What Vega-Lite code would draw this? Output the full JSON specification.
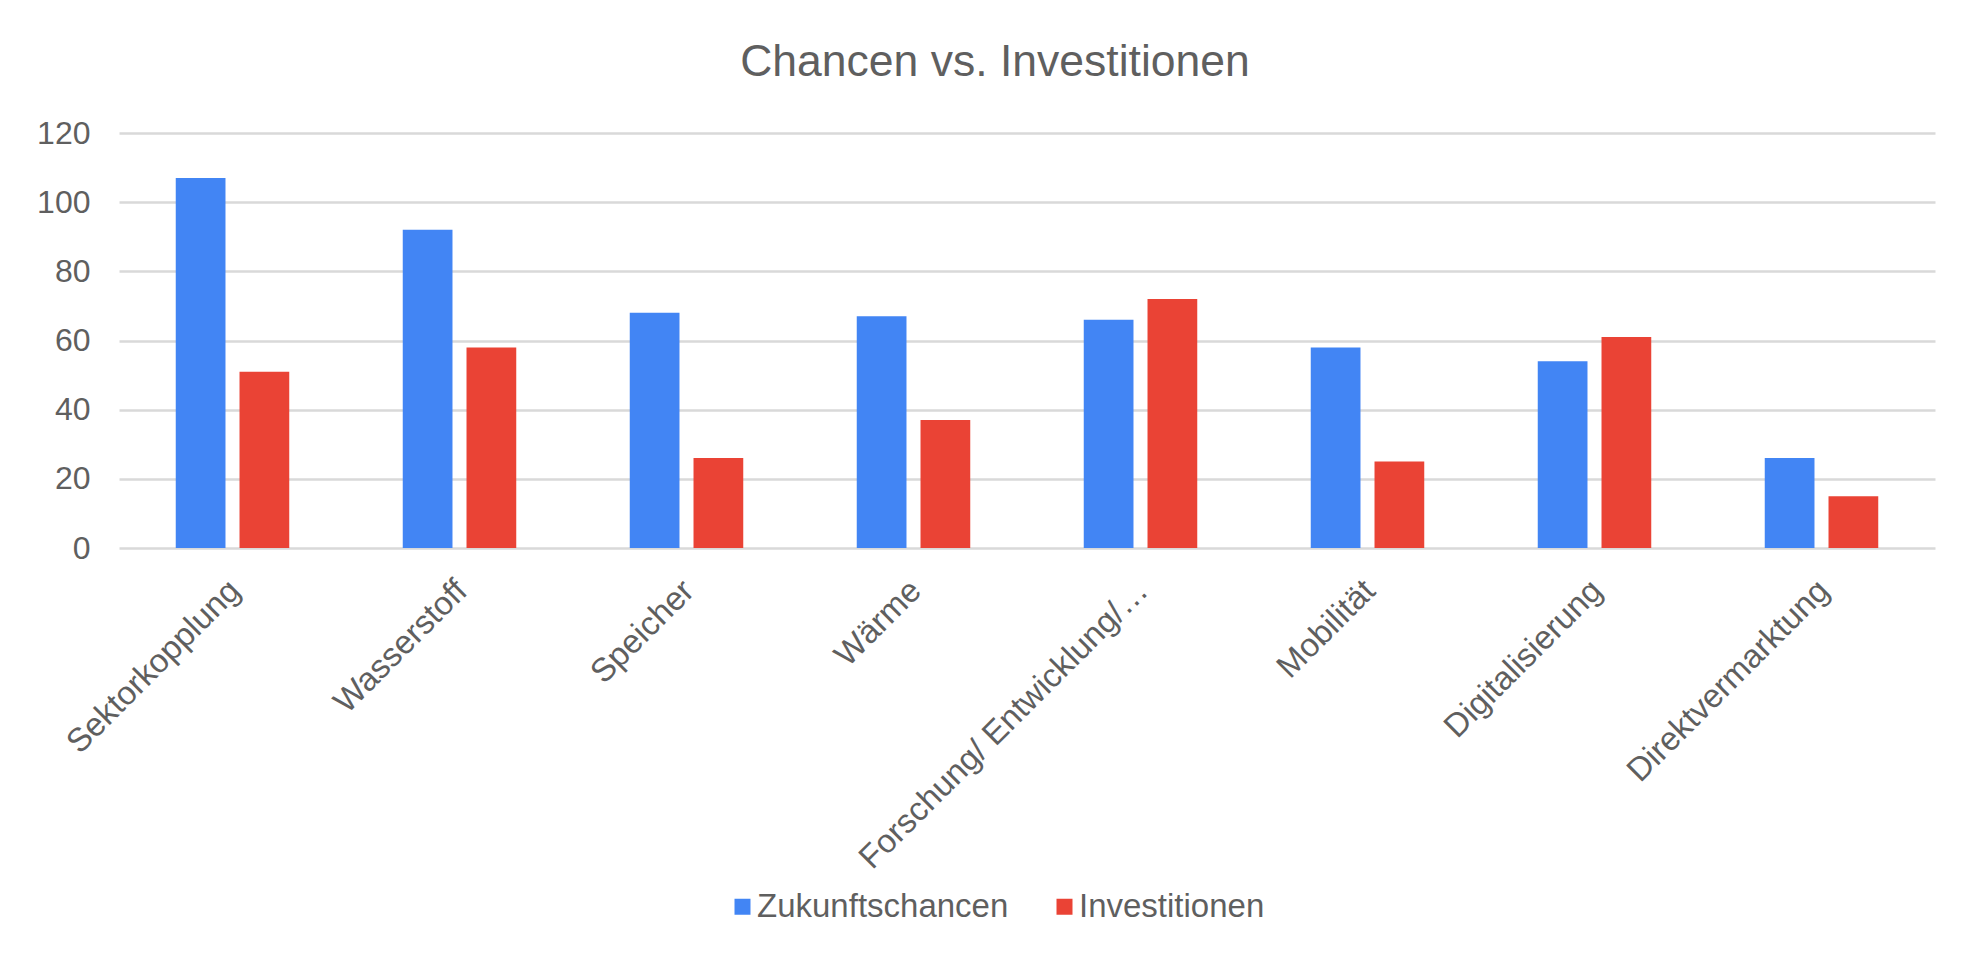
{
  "$schema": "https://vega.github.io/schema/vega-lite/v6.json",
  "width": 1816,
  "height": 415,
  "autosize": {"type": "none"},
  "padding": {"left": 119, "top": 133, "right": 29, "bottom": 405},
  "background": "white",
  "config": {
    "font": "Liberation Sans",
    "view": {"stroke": null}
  },
  "title": {
    "text": "Chancen vs. Investitionen",
    "fontSize": 44.5,
    "fontWeight": "normal",
    "color": "#5f5f5f",
    "anchor": "middle",
    "dx": -32,
    "offset": 32
  },
  "data": {
    "values": [
      {"Kategorie": "Sektorkopplung", "Reihe": "Zukunftschancen", "Wert": 107},
      {"Kategorie": "Sektorkopplung", "Reihe": "Investitionen", "Wert": 51},
      {"Kategorie": "Wasserstoff", "Reihe": "Zukunftschancen", "Wert": 92},
      {"Kategorie": "Wasserstoff", "Reihe": "Investitionen", "Wert": 58},
      {"Kategorie": "Speicher", "Reihe": "Zukunftschancen", "Wert": 68},
      {"Kategorie": "Speicher", "Reihe": "Investitionen", "Wert": 26},
      {"Kategorie": "Wärme", "Reihe": "Zukunftschancen", "Wert": 67},
      {"Kategorie": "Wärme", "Reihe": "Investitionen", "Wert": 37},
      {"Kategorie": "Forschung/ Entwicklung/…", "Reihe": "Zukunftschancen", "Wert": 66},
      {"Kategorie": "Forschung/ Entwicklung/…", "Reihe": "Investitionen", "Wert": 72},
      {"Kategorie": "Mobilität", "Reihe": "Zukunftschancen", "Wert": 58},
      {"Kategorie": "Mobilität", "Reihe": "Investitionen", "Wert": 25},
      {"Kategorie": "Digitalisierung", "Reihe": "Zukunftschancen", "Wert": 54},
      {"Kategorie": "Digitalisierung", "Reihe": "Investitionen", "Wert": 61},
      {"Kategorie": "Direktvermarktung", "Reihe": "Zukunftschancen", "Wert": 26},
      {"Kategorie": "Direktvermarktung", "Reihe": "Investitionen", "Wert": 15}
    ]
  },
  "mark": {"type": "bar"},
  "encoding": {
    "x": {
      "field": "Kategorie",
      "type": "nominal",
      "sort": null,
      "scale": {"paddingInner": 0.5, "paddingOuter": 0.25},
      "axis": {
        "title": null,
        "labelAngle": -45,
        "labelFontSize": 33,
        "labelColor": "#5f5f5f",
        "labelPadding": 26,
        "labelOffset": -9,
        "labelLimit": 1000,
        "domain": false,
        "ticks": false,
        "grid": false
      }
    },
    "xOffset": {
      "field": "Reihe",
      "type": "nominal",
      "sort": ["Zukunftschancen", "Investitionen"],
      "scale": {"paddingInner": 0.22, "paddingOuter": 0}
    },
    "y": {
      "field": "Wert",
      "type": "quantitative",
      "scale": {"domain": [0, 120], "nice": false},
      "axis": {
        "title": null,
        "values": [0, 20, 40, 60, 80, 100, 120],
        "labelFontSize": 32,
        "labelColor": "#5f5f5f",
        "labelPadding": 29,
        "domain": false,
        "ticks": false,
        "gridColor": "#d9d9d9",
        "gridWidth": 2.5
      }
    },
    "color": {
      "field": "Reihe",
      "type": "nominal",
      "sort": ["Zukunftschancen", "Investitionen"],
      "scale": {"domain": ["Zukunftschancen", "Investitionen"], "range": ["#4285F4", "#EA4335"]},
      "legend": {
        "title": null,
        "orient": "none",
        "direction": "horizontal",
        "legendX": 607,
        "legendY": 757,
        "symbolType": "square",
        "symbolSize": 256,
        "symbolStrokeWidth": 0,
        "labelFontSize": 33,
        "labelColor": "#5f5f5f",
        "labelOffset": -2,
        "columnPadding": 39,
        "labelLimit": 1000
      }
    }
  }
}
